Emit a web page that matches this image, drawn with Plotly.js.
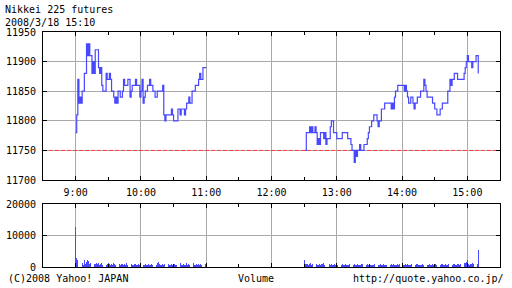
<!DOCTYPE html>
<html>
<head>
<meta charset="utf-8">
<script src="https://cdn.plot.ly/plotly-3.0.1.min.js"></script>
<style>html,body{margin:0;padding:0;background:#fff;}#chart{width:512px;height:288px;}</style>
</head>
<body>
<div id="chart"></div>
<script>
// ---- data ----
const tradeDate = "2008-03-18";
const prevClose = 11750;

const amTimes = ["09:00","09:01","09:02","09:03","09:04","09:05","09:06","09:08","09:10","09:11",
  "09:12","09:13","09:15","09:16","09:17","09:18","09:21","09:22","09:23","09:24",
  "09:25","09:28","09:29","09:31","09:32","09:33","09:35","09:36","09:37","09:38",
  "09:39","09:41","09:43","09:44","09:45","09:48","09:50","09:51","09:52","09:55",
  "09:56","09:59","10:00","10:01","10:02","10:03","10:04","10:06","10:08","10:09",
  "10:11","10:13","10:15","10:20","10:21","10:22","10:23","10:28","10:29","10:30",
  "10:34","10:36","10:37","10:40","10:41","10:42","10:44","10:45","10:47","10:50",
  "10:53","10:54","10:55","10:57","11:00"];
const amPrices = [11780,11810,11870,11830,11840,11830,11850,11880,11930,11910,
  11930,11910,11880,11900,11880,11920,11890,11880,11890,11860,
  11850,11880,11870,11880,11870,11850,11840,11830,11840,11830,
  11850,11840,11850,11870,11860,11870,11840,11850,11860,11870,
  11860,11840,11850,11870,11830,11840,11850,11860,11870,11860,
  11850,11840,11850,11860,11810,11800,11810,11820,11810,11800,
  11820,11810,11820,11810,11820,11830,11840,11830,11850,11860,
  11870,11880,11870,11890,11890];

const pmTimes = ["12:31","12:32","12:35","12:36","12:37","12:38","12:40","12:41","12:42","12:43",
  "12:44","12:45","12:48","12:49","12:50","12:51","12:54","12:55","12:57","13:00",
  "13:05","13:10","13:13","13:14","13:16","13:17","13:18","13:19","13:21","13:22",
  "13:25","13:28","13:29","13:30","13:32","13:34","13:37","13:38","13:39","13:41",
  "13:44","13:50","13:51","13:52","13:53","13:54","13:56","14:02","14:03","14:04",
  "14:05","14:06","14:08","14:10","14:11","14:12","14:14","14:17","14:20","14:21",
  "14:22","14:23","14:28","14:30","14:32","14:35","14:37","14:42","14:44","14:45",
  "14:46","14:48","14:51","14:57","14:58","14:59","15:00","15:01","15:04","15:05",
  "15:08","15:10"];
const pmPrices = [11750,11780,11790,11780,11790,11780,11790,11780,11760,11770,
  11760,11780,11770,11780,11760,11770,11790,11800,11780,11770,
  11780,11770,11760,11750,11730,11750,11740,11750,11760,11750,
  11760,11770,11780,11790,11800,11810,11800,11790,11800,11820,
  11830,11820,11830,11820,11840,11850,11860,11850,11860,11850,
  11840,11830,11840,11830,11820,11830,11840,11850,11870,11860,
  11850,11840,11830,11820,11810,11820,11830,11850,11870,11860,
  11870,11880,11870,11880,11890,11900,11910,11900,11890,11900,
  11910,11880];

// volume per minute, 09:00..11:00 and 12:30..15:10
const amVolStart = "09:00";
const amVolume = [12600,2800,2200,1800,900,700,1200,600,2200,900,
  1500,2300,1900,800,1200,1000,700,1100,900,1300,
  800,1200,600,1000,1300,700,900,1100,500,800,
  1300,1000,600,900,700,1200,800,500,1000,700,
  900,600,1100,800,500,900,700,1200,600,800,
  500,900,700,600,1000,800,500,700,900,600,
  1100,800,600,700,900,500,600,800,700,500,
  900,600,800,500,700,1400,1600,1000,700,600,
  800,500,900,700,600,800,500,700,1000,600,
  500,800,600,700,900,500,1200,700,600,800,
  500,700,1300,600,800,500,900,700,1200,600,
  500,800,700,1100,600,900,500,1200,700,800,
  1300];
const pmVolStart = "12:30";
const pmVolume = [2200,1100,900,1000,700,800,1200,600,900,700,
  800,1100,600,700,900,500,1000,800,1300,600,
  700,900,1500,800,600,1000,700,500,800,600,
  1000,700,900,600,500,800,700,600,900,500,
  700,600,800,1600,700,500,900,600,700,800,
  500,600,700,1000,800,500,600,700,900,500,
  800,600,500,700,600,800,1000,500,600,700,
  900,600,500,800,700,600,500,900,600,700,
  800,500,1000,600,700,500,800,600,900,500,
  600,700,500,800,600,900,700,500,600,800,
  700,500,600,900,800,600,700,500,600,800,
  500,700,900,600,500,800,700,600,1000,700,
  600,800,500,700,900,600,800,1000,700,600,
  900,700,600,800,1000,700,500,900,800,600,
  700,900,800,600,1000,900,700,1200,1400,1600,
  2300,1100,700,900,1000,1200,900,800,700,1000,5300];

const priceTicks = [11700,11750,11800,11850,11900,11950];
const volumeTicks = [0,10000,20000];
const xRange = ["08:30","15:30"];

// ---- helpers ----
const ts = hm => tradeDate + " " + hm;
function minuteSeries(start, n){
  const [h,m] = start.split(":").map(Number);
  const out = [];
  for(let i=0;i<n;i++){
    const t = h*60+m+i;
    out.push(ts(String(Math.floor(t/60)).padStart(2,"0")+":"+String(t%60).padStart(2,"0")));
  }
  return out;
}

const blue = "#4848ff";
const FONT = {family:"DejaVu Sans Mono, monospace", size:10, color:"#000"};

const traces = [
  {x: xRange.map(ts), y: [prevClose, prevClose], type:"scatter", mode:"lines", line:{color:"#ff4040", width:1, dash:"4px,2px"}, xaxis:"x", yaxis:"y", hoverinfo:"skip", cliponaxis:true},
  {x: amTimes.map(ts), y: amPrices, type:"scatter", mode:"lines", line:{shape:"hv", color:blue, width:1.2}, xaxis:"x", yaxis:"y", hoverinfo:"skip"},
  {x: pmTimes.map(ts), y: pmPrices, type:"scatter", mode:"lines", line:{shape:"hv", color:blue, width:1.2}, xaxis:"x", yaxis:"y", hoverinfo:"skip"},
  {x: minuteSeries(amVolStart, amVolume.length), y: amVolume, type:"bar", marker:{color:blue, line:{width:0}}, width:45000, xaxis:"x2", yaxis:"y2", hoverinfo:"skip"},
  {x: minuteSeries(pmVolStart, pmVolume.length), y: pmVolume, type:"bar", marker:{color:blue, line:{width:0}}, width:45000, xaxis:"x2", yaxis:"y2", hoverinfo:"skip"}
];

const xCommon = {
  type:"date", range: xRange.map(ts),
  tick0: ts("09:00"), dtick: 3600000, tickformat:"%-H:%M",
  ticks:"inside", ticklen:4, tickcolor:"#000", tickwidth:1,
  showline:true, linecolor:"#000", linewidth:1, mirror:"ticks",
  showgrid:true, gridcolor:"#aaaaaa", gridwidth:1, zeroline:false,
  minor:{dtick:1800000, tick0: ts("09:00"), ticks:"inside", ticklen:3, tickcolor:"#000", showgrid:false},
  tickfont: FONT, fixedrange:true
};
const yCommon = {
  ticks:"inside", ticklen:4, tickcolor:"#000", tickwidth:1,
  showline:true, linecolor:"#000", linewidth:1, mirror:"ticks",
  showgrid:true, gridcolor:"#aaaaaa", gridwidth:1, zeroline:false,
  tickformat:"d", tickfont: FONT, ticklabelstandoff:4, fixedrange:true
};

// paper coordinate helpers (plot area: 43..500 x, 32..267 y)
const px = v => (v-43)/457;
const py = v => (267-v)/235;

const layout = {
  width:512, height:288,
  margin:{l:43, r:12, t:32, b:21, pad:0},
  paper_bgcolor:"#fff", plot_bgcolor:"#fff",
  showlegend:false, bargap:0,
  font: FONT,
  xaxis: Object.assign({}, xCommon, {anchor:"y", showticklabels:true, ticklabelstandoff:3}),
  xaxis2: Object.assign({}, xCommon, {anchor:"y2", matches:"x", showticklabels:false}),
  yaxis: Object.assign({}, yCommon, {domain:[0.370,1], range:[11700,11950], tickvals: priceTicks}),
  yaxis2: Object.assign({}, yCommon, {domain:[0,0.268], range:[0,20000], tickvals: volumeTicks}),
  annotations:[
    {text:"Nikkei 225 futures<br>2008/3/18 15:10", xref:"paper", yref:"paper", x:px(4), y:py(16.5), xanchor:"left", yanchor:"middle", align:"left", showarrow:false, font:FONT, borderpad:0},
    {text:"(C)2008 Yahoo! JAPAN", xref:"paper", yref:"paper", x:px(6), y:py(278), xanchor:"left", yanchor:"middle", showarrow:false, font:FONT},
    {text:"Volume", xref:"paper", yref:"paper", x:px(255.5), y:py(278), xanchor:"center", yanchor:"middle", showarrow:false, font:FONT},
    {text:"http://quote.yahoo.co.jp/", xref:"paper", yref:"paper", x:px(506), y:py(278), xanchor:"right", yanchor:"middle", showarrow:false, font:FONT}
  ]
};

Plotly.newPlot("chart", traces, layout, {staticPlot:true, displayModeBar:false});
</script>
</body>
</html>
